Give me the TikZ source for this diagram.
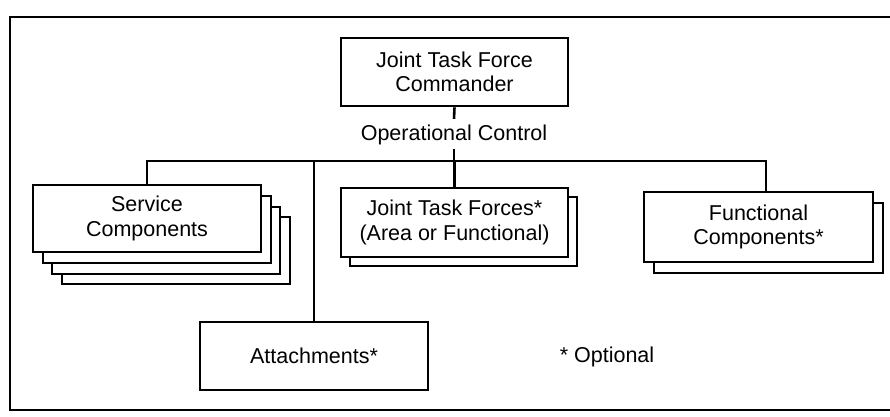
\documentclass[tikz,border=0pt]{standalone}
\usepackage{fontspec}
\setmainfont{Liberation Sans}
\begin{document}
\begin{tikzpicture}[x=1pt,y=-1pt,
  box/.style={draw,line width=2.6pt,fill=white,align=center,inner sep=0pt,
    font=\fontsize{21.5}{24.5}\selectfont},
  lbl/.style={font=\fontsize{21.5}{24.5}\selectfont,inner sep=0pt},
  conn/.style={line width=2.6pt}]
\useasboundingbox (0,0) rectangle (890,416);
\draw[line width=2.6pt] (10,17) rectangle (900,410);
% top commander
\node[box,minimum width=227pt,minimum height=68pt] (jtfc) at (454.5,72) {Joint Task Force\\Commander};
\node[lbl] (opc) at (454,135) {Operational Control};
% service components with three shadows
\node[box,minimum width=228pt,minimum height=67pt] (svc3) at (176,250.5) {};
\node[box,minimum width=228pt,minimum height=67pt] (svc2) at (166,240.5) {};
\node[box,minimum width=228pt,minimum height=67pt] (svc1) at (157,229.5) {};
\node[box,minimum width=228pt,minimum height=67pt] (svc) at (147,218.5) {Service\\Components};
% joint task forces
\node[box,minimum width=227pt,minimum height=69pt] (jtf1) at (463.5,231.5) {};
\node[box,minimum width=227pt,minimum height=69pt] (jtf) at (454.5,222.5) {Joint Task Forces*\\(Area or Functional)};
% functional components
\node[box,minimum width=229pt,minimum height=70pt] (fc1) at (768.5,238) {};
\node[box,minimum width=229pt,minimum height=70pt] (fc) at (758.5,227) {Functional\\Components*};
% attachments
\node[box,minimum width=228pt,minimum height=68pt] (att) at (314,356) {Attachments*};
\node[lbl] (opt) at (607,357) {* Optional};
% connectors
\coordinate (fcdrop) at (766,161);
\draw[conn] (jtfc.south) -- ([yshift=6pt]opc.north);
\draw[conn] ([yshift=-4pt]opc.south) -- (opc.south |- fcdrop);
\draw[conn] (svc.north) |- (fcdrop) -- (fcdrop |- fc.north);
\draw[conn] (jtf.north) -- (jtf.north |- fcdrop);
\draw[conn] (att.north) -- (att.north |- fcdrop);
\end{tikzpicture}
\end{document}
